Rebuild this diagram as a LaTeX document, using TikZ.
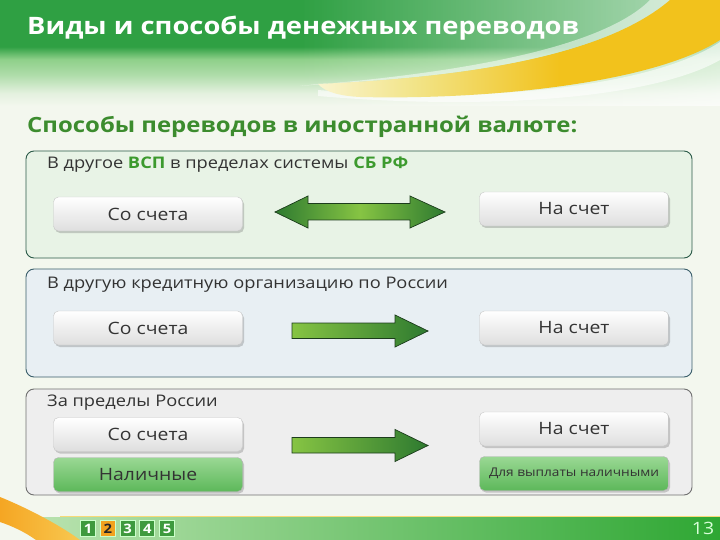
\documentclass[tikz,border=0pt]{standalone}
\usepackage{fontspec}
\setmainfont[FakeStretch=1.14]{Open Sans}
\usetikzlibrary{fadings,shadows}
\definecolor{bgc}{HTML}{F3F7EE}
\definecolor{hdg}{HTML}{2FA043}
\definecolor{hmg}{HTML}{8FD08A}
\definecolor{subg}{HTML}{3C8C2E}
\definecolor{accg}{HTML}{3C9A2E}
\definecolor{txt}{HTML}{333333}
\definecolor{p1f}{HTML}{E8F3E6}
\definecolor{p1b}{HTML}{2B5A48}
\definecolor{p2f}{HTML}{E8EFF3}
\definecolor{p2b}{HTML}{3A5E6A}
\definecolor{p3f}{HTML}{EEEEEE}
\definecolor{p3b}{HTML}{707070}
\definecolor{ad}{HTML}{2E7A30}
\definecolor{al}{HTML}{86C443}
\definecolor{aline}{HTML}{1C3C1C}
\definecolor{gtop}{HTML}{9AD894}
\definecolor{gbot}{HTML}{5DB85A}
\definecolor{ylwA}{HTML}{F2E488}
\definecolor{ylwB}{HTML}{F2C21C}
\definecolor{orA}{HTML}{F5A623}
\definecolor{orB}{HTML}{F8C850}
\definecolor{barL}{HTML}{B8E2AE}
\definecolor{barR}{HTML}{2EA733}
\definecolor{pgG}{HTML}{3E9A3E}
\definecolor{pgO}{HTML}{F2A21E}
\pgfdeclareverticalshading{hdr}{100bp}{color(0bp)=(bgc); color(25bp)=(bgc); color(31bp)=(bgc!85!hmg); color(40bp)=(hmg!70!bgc); color(47bp)=(hmg); color(53bp)=(hdg); color(100bp)=(hdg)}
\pgfdeclarehorizontalshading{darr}{100bp}{color(0bp)=(ad); color(25bp)=(ad); color(50bp)=(al); color(75bp)=(ad); color(100bp)=(ad)}
\pgfdeclarehorizontalshading{swoosh}{100bp}{color(0bp)=(ylwA!40!white); color(25bp)=(ylwA!40!white); color(37bp)=(ylwA); color(55bp)=(ylwB); color(100bp)=(ylwB)}
\tikzfading[name=fadeR, left color=transparent!100, right color=transparent!0]
\tikzset{
  panel/.style={rounded corners=8pt, line width=0.9pt, inner sep=0pt},
  btn/.style={rounded corners=5pt, draw=black!22, top color=white, bottom color=black!13,
    minimum width=189pt, minimum height=34pt, inner sep=0pt, text=txt,
    font=\fontsize{17}{18}\selectfont,
    drop shadow={shadow xshift=1.5pt, shadow yshift=-2pt, opacity=0.3, fill=black!60}},
  gbtn/.style={btn, draw=black!30, top color=gtop, bottom color=gbot},
  plabel/.style={anchor=west, text=txt, inner sep=0pt, font=\fontsize{16}{17}\selectfont},
  blockarrow/.style={draw=aline, line width=0.7pt, line join=miter},
  pgbox/.style={draw=white!80!green, line width=0.8pt, fill=pgG, minimum width=15pt, minimum height=16.5pt,
    inner sep=0pt, text=white, font=\bfseries\fontsize{13}{13}\selectfont}
}
\begin{document}
\begin{tikzpicture}[x=1pt,y=-1pt]
\useasboundingbox (0,0) rectangle (720,540);
\fill[bgc] (0,0) rectangle (720,540);
% header
\shade[shading=hdr] (0,0) rectangle (720,106);
\fill[white, path fading=fadeR, opacity=0.65] (300,0) rectangle (720,106);
% white glow around the yellow swoosh
\fill[white, opacity=0.5] (300,86) .. controls (450,74) and (600,50) .. (650,0) -- (672,0) .. controls (600,60) and (450,78) .. (318,84) -- cycle;
\fill[white, opacity=0.6] (318,90) .. controls (480,104) and (650,88) .. (720,42) -- (720,60) .. controls (650,100) and (480,110) .. (318,96) -- cycle;
% yellow swoosh
\shade[shading=swoosh] (318,84) .. controls (450,78) and (600,60) .. (670,0) -- (720,0) -- (720,40) .. controls (650,85) and (480,100) .. (360,97) .. controls (340,96) and (325,92) .. (318,84) -- cycle;
\node[anchor=west, text=white, inner sep=0pt, font=\bfseries\fontsize{24}{26}\selectfont] (title) at (27,28) {Виды и способы денежных переводов};
\node[anchor=west, text=subg, inner sep=0pt, font=\bfseries\fontsize{21}{23}\selectfont] (sub) at (27,127) {Способы переводов в иностранной валюте:};

% bottom bar
\shade[left color=barL, right color=barR] (40,517) rectangle (720,540);
\draw[draw=ylwB!60!white, line width=1.2pt] (60,516.5) -- (720,516.5);
\shade[left color=orA, right color=orB] (0,497) .. controls (25,507) and (60,525) .. (80,540) -- (36,540) .. controls (25,532) and (12,526) .. (0,522) -- cycle;
\foreach \i in {1,...,5} {
  \node[pgbox] (pg\i) at ({88+(\i-1)*19.75},528.5) {\i};
}
\node[pgbox, fill=pgO, text=black!85] at (pg2) {2};
\node[text=green!15!white, inner sep=0pt, font=\fontsize{17}{17}\selectfont] (num) at (703,528) {13};

% panel 1
\node[panel, draw=p1b, fill=p1f, minimum width=666pt, minimum height=107pt] (p1) at (359,204.5) {};
\node[plabel] (l1) at (47,165) {В другое \textcolor{accg}{\bfseries ВСП} в пределах системы \textcolor{accg}{\bfseries СБ РФ}};
\node[btn] (a1) at (148,214) {Со счета};
\node[btn] (b1) at (574,209) {На счет};
\shade[shading=darr, blockarrow] (275,212) -- (308,196) -- (308,203.5) -- (410,203.5) -- (410,196) -- (445,212) -- (410,228) -- (410,220) -- (308,220) -- (308,228) -- cycle;

% panel 2
\node[panel, draw=p2b, fill=p2f, minimum width=666pt, minimum height=108pt] (p2) at (359,323) {};
\node[plabel] (l2) at (47,285) {В другую кредитную организацию по России};
\node[btn] (a2) at (148,328) {Со счета};
\node[btn] (b2) at (574,328) {На счет};
\shade[left color=al, right color=ad, blockarrow] (292,323) -- (395,323) -- (395,315) -- (428,331) -- (395,347) -- (395,338.5) -- (292,338.5) -- cycle;

% panel 3
\node[panel, draw=p3b, fill=p3f, minimum width=666pt, minimum height=106pt] (p3) at (359,442) {};
\node[plabel] (l3) at (47,403) {За пределы России};
\node[btn] (a3) at (148,434.5) {Со счета};
\node[gbtn] (c3) at (148,474.5) {Наличные};
\node[btn] (b3) at (574,429) {На счет};
\node[gbtn, font=\fontsize{12}{13}\selectfont] (d3) at (574,473.5) {Для выплаты наличными};
\shade[left color=al, right color=ad, blockarrow] (292,437.5) -- (395,437.5) -- (395,429.5) -- (428,445.5) -- (395,461.5) -- (395,453) -- (292,453) -- cycle;
\end{tikzpicture}
\end{document}
